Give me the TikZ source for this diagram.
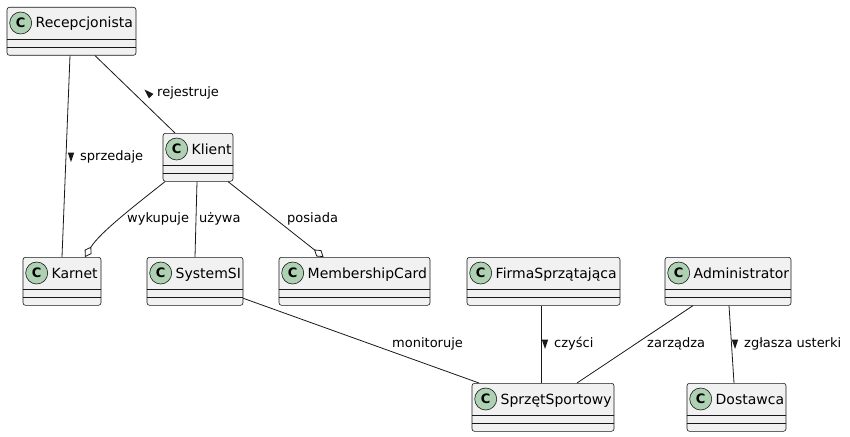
\documentclass[tikz,border=0pt]{standalone}
\usepackage{fontspec}
\setmainfont{DejaVu Sans}
\usetikzlibrary{arrows.meta}

\definecolor{boxfill}{HTML}{F1F1F1}
\definecolor{linecol}{HTML}{181818}
\definecolor{iconfill}{HTML}{ADD1B2}

% one class box: name, top centre, width, title
\newcommand{\umlclass}[4]{%
	\node[classbox, minimum width=#3, anchor=north] (#1) at (#2) {};
	\node[cicon] (#1-c) at ([xshift=14pt,yshift=-16pt]#1.north west) {C};
	\node[cname] (#1-t) at ([xshift=3.5pt,yshift=-5pt]#1-c.east) {#4};
	\draw[sepline] ([yshift=-32pt]#1.north west) -- ([yshift=-32pt]#1.north east);
	\draw[sepline] ([yshift=-40pt]#1.north west) -- ([yshift=-40pt]#1.north east);
}
% small direction mark before a label
\newcommand{\lbltri}[2]{%
	\fill[linecol, shift={([xshift=-9pt]#1.west)}, rotate=#2] (5pt,0) -- (-4.5pt,3.2pt) -- (-4.5pt,-3.2pt) -- cycle;
}

\begin{document}
\begin{tikzpicture}[x=1pt, y=-1pt,
		classbox/.style = {rectangle, draw=linecol, fill=boxfill, line width=0.6pt, rounded corners=2.5pt, minimum height=48pt, inner sep=0pt},
		cicon/.style = {circle, draw=linecol, fill=iconfill, line width=0.6pt, minimum size=22pt, inner sep=0pt, font=\fontsize{13}{13}\selectfont\bfseries},
		cname/.style = {anchor=base west, inner sep=0pt, font=\fontsize{14}{16}\selectfont},
		sepline/.style = {draw=linecol, line width=0.6pt},
		lbl/.style = {anchor=west, inner sep=0pt, text height=10pt, text depth=3pt, font=\fontsize{13}{15}\selectfont},
		assoc/.style = {draw=linecol, line width=0.8pt},
		agg/.style = {assoc, -{Diamond[fill=white, length=12pt, width=8pt, line width=0.8pt]}}]
	\useasboundingbox (0,0) rectangle (850,436);

	\umlclass{rec}{71.5,7}{129pt}{Recepcjonista}
	\umlclass{kli}{198,133}{70pt}{Klient}
	\umlclass{kar}{62,257}{78pt}{Karnet}
	\umlclass{sys}{195,257}{96pt}{SystemSI}
	\umlclass{mem}{354.5,257}{151pt}{MembershipCard}
	\umlclass{fir}{543.5,257}{153pt}{FirmaSprzątająca}
	\umlclass{adm}{728,257}{126pt}{Administrator}
	\umlclass{spr}{543,383}{142pt}{SprzętSportowy}
	\umlclass{dos}{736.5,383}{99pt}{Dostawca}

	% connectors
	\draw[assoc] ([xshift=-1.5pt]rec.south) -- (kar.north);
	\draw[assoc] ([xshift=23.5pt]rec.south) -- ([xshift=-23pt]kli.north);
	\draw[agg] ([xshift=-33pt]kli.south) .. controls +(-25,20) and +(15,-25) .. ([xshift=23pt]kar.north);
	\draw[assoc] ([xshift=-1pt]kli.south) -- (sys.north);
	\draw[agg] ([xshift=30pt]kli.south) -- ([xshift=-31pt]mem.north);
	\draw[assoc] ([yshift=-17pt]sys.east) -- ([xshift=-64pt]spr.north);
	\draw[assoc] ([xshift=-2.5pt]fir.south) -- ([xshift=-2pt]spr.north);
	\draw[assoc] ([xshift=-35pt]adm.south) -- ([xshift=34pt]spr.north);
	\draw[assoc] ([xshift=1pt]adm.south) -- ([xshift=-2.5pt]dos.north);

	% labels
	\node[lbl] (l-sprz) at (80,157) {sprzedaje};
	\node[lbl] (l-rej) at (157,93) {rejestruje};
	\node[lbl] (l-wyk) at (127,219) {wykupuje};
	\node[lbl] (l-uzy) at (199,219) {używa};
	\node[lbl] (l-pos) at (287,219) {posiada};
	\node[lbl] (l-mon) at (392,344) {monitoruje};
	\node[lbl] (l-czy) at (554,344) {czyści};
	\node[lbl] (l-zar) at (647,344) {zarządza};
	\node[lbl] (l-zgl) at (744,344) {zgłasza usterki};
	\lbltri{l-sprz}{-90}
	\lbltri{l-rej}{135.7}
	\lbltri{l-czy}{-90}
	\lbltri{l-zgl}{-90}
\end{tikzpicture}
\end{document}
